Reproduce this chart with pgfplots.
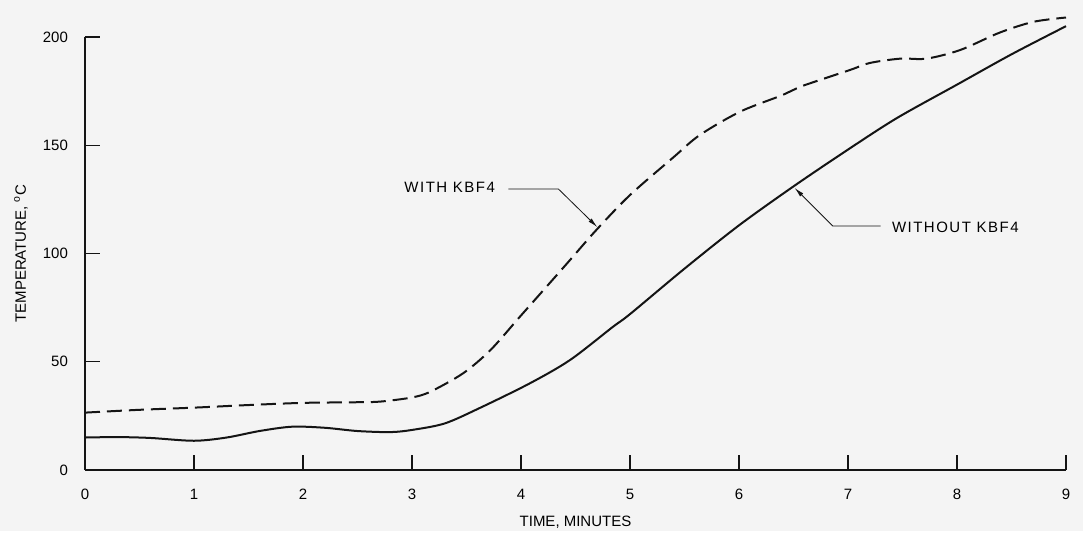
\documentclass[border=0pt]{standalone}
\usepackage{fontspec}
\setmainfont{Liberation Sans}
\newfontfamily\lblfont[LetterSpace=10]{Liberation Sans}
\usepackage{pgfplots}
\pgfplotsset{compat=1.18}
\usetikzlibrary{arrows.meta}
\definecolor{bg}{RGB}{244,244,244}
\definecolor{ink}{RGB}{20,20,20}
\begin{document}
\begin{tikzpicture}[x=1pt,y=1pt]
\fill[bg] (-42.5,-30.5) rectangle (499,235);
\begin{axis}[
  at={(0,0)}, anchor=south west,
  scale only axis, width=490.5pt, height=216.5pt,
  xmin=0, xmax=9, ymin=0, ymax=200,
  axis lines=left,
  axis line style={-, line width=0.6pt, ink},
  tick align=inside, major tick length=7.5pt,
  tick style={line width=0.6pt, ink},
  xtick={0,...,9}, ytick={0,50,...,200},
  clip=false,
  font=\fontsize{7.5}{9}\selectfont,
  /pgf/number format/assume math mode=true,
  xticklabel style={yshift=-6pt},
  yticklabel style={xshift=-5pt},
  xlabel={TIME, MINUTES},
  ylabel={TEMPERATURE, \textsuperscript{o}C},
  every axis x label/.style={at={(axis description cs:0.5,-0.12)}, anchor=center},
  every axis y label/.style={at={(axis description cs:-0.0652,0.5)}, anchor=center, rotate=90},
]
% without KBF4 (solid)
\addplot[ink, line width=1pt, smooth, tension=0.5] coordinates {
(0,15) (0.3,15.2) (0.6,14.8) (1,13.5) (1.3,15) (1.6,18) (1.9,20) (2.2,19.5)
(2.5,18) (2.8,17.5) (3.0,18.5) (3.3,21.5) (3.62,28.6) (4.08,40) (4.45,50.8)
(4.84,66) (5.0,72) (5.5,93) (6.0,113) (6.50,131) (7.0,148)
(7.45,162.6) (8,178) (8.5,192) (9,205)
};
% with KBF4 (dashed)
\addplot[ink, line width=1pt, smooth, tension=0.5, dash pattern=on 7.5pt off 3.5pt] coordinates {
(0,26.5) (0.5,27.8) (1,28.8) (1.5,30) (2,31) (2.5,31.3) (2.71,31.6) (3.0,33.5)
(3.17,36.2) (3.47,44.7) (3.72,55.4) (3.99,70.8) (4.24,85) (4.45,97)
(4.69,110.8) (5.0,127) (5.4,144.5) (5.64,154.7) (6.01,165.5) (6.40,173.2)
(6.56,177) (7.02,184.8) (7.2,188) (7.48,190) (7.72,190) (8.03,194)
(8.39,202) (8.70,207) (9.0,209)
};
\draw[ink, line width=0.4pt, -{Latex[length=5pt,width=2.2pt]}]
  (axis cs:3.884,129.8) -- (axis cs:4.343,129.8) -- (axis cs:4.70,112.2);
\draw[ink, line width=0.4pt, -{Latex[length=5pt,width=2.2pt]}]
  (axis cs:7.30,112.7) -- (axis cs:6.86,112.7) -- (axis cs:6.51,130.3);
\node[anchor=east, inner sep=0pt] at (axis cs:3.765,130.7) {\lblfont WITH KBF4};
\node[anchor=west, inner sep=0pt] at (axis cs:7.40,112.2) {\lblfont WITHOUT KBF4};
\end{axis}
\end{tikzpicture}
\end{document}
